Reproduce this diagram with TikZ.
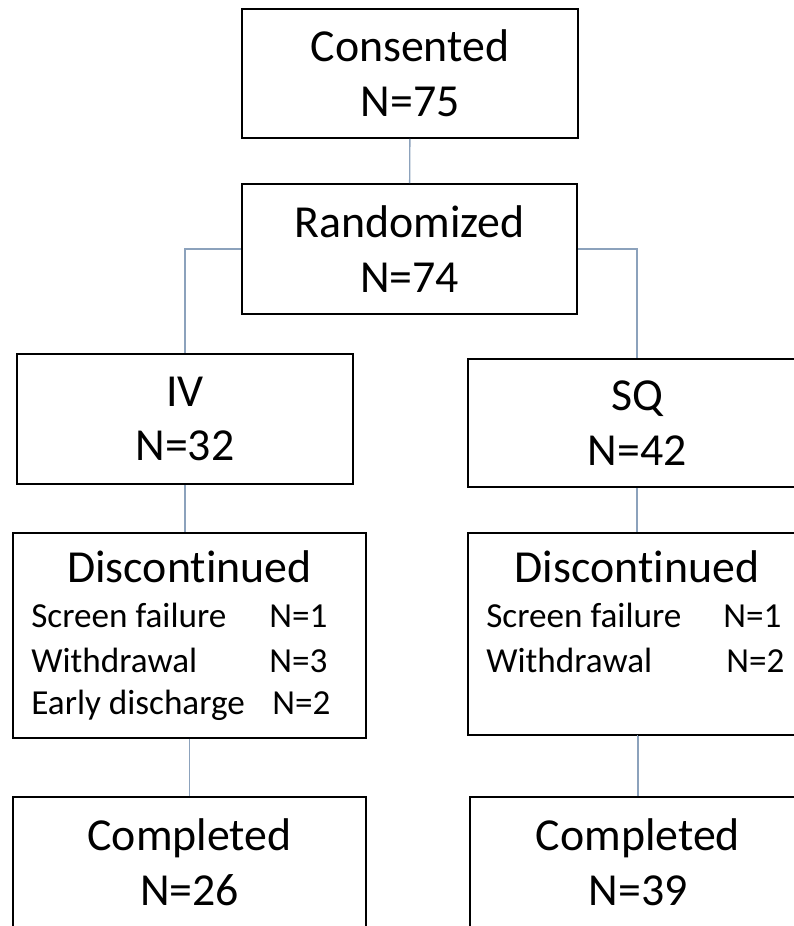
\documentclass[tikz,border=0pt]{standalone}
\usepackage{fontspec}
\setmainfont{Carlito}[Ligatures=NoCommon]
\usetikzlibrary{positioning}

\begin{document}
\begin{tikzpicture}[
        x=0.025cm, y=-0.025cm,
        block/.style={
            rectangle,
            draw=black,
            line width=1.3pt,
            inner sep=0pt,
            align=center,
            font=\fontsize{32.6}{39}\selectfont,
            minimum width=8.4cm,
            minimum height=3.25cm,
        },
        item/.style={
            inner sep=0pt,
            anchor=base west,
            font=\fontsize{25}{30}\selectfont,
        },
        link/.style={
            draw={rgb,255:red,140;green,162;blue,188},
            line width=1pt,
        }
    ]

    \useasboundingbox (0,0) rectangle (794,926);
    \clip (0,0) rectangle (794,926);

    \node (cons) at (410,73.5) [block, minimum height=3.225cm] {Consented\\N=75};
    \node (rand) at (409.5,249) [block, minimum width=8.375cm] {Randomized\\N=74};
    \node (iv) at (185,419) [block] {IV\\N=32};
    \node (sq) at (637,423) [block, minimum width=8.45cm, minimum height=3.2cm] {SQ\\N=42};
    \node (discL) at (189.5,635.5) [block, minimum width=8.825cm, minimum height=5.125cm] {};
    \node (discR) at (637,634) [block, minimum width=8.45cm, minimum height=5.05cm] {};
    \node (compL) at (189.5,862) [block, minimum width=8.825cm] {Completed\\N=26};
    \node (compR) at (638,862) [block] {Completed\\N=39};

    % discontinued, IV arm
    \node (discLhead) at ([yshift=-1.25cm]discL.north) [item, anchor=base, font=\fontsize{32.6}{39}\selectfont] {Discontinued};
    \node (discLscreen) at ([xshift=0.475cm, yshift=-2.375cm]discL.north west) [item] {Screen failure};
    \node (discLwith) at ([xshift=0.475cm, yshift=-3.5cm]discL.north west) [item] {Withdrawal};
    \node (discLearly) at ([xshift=0.475cm, yshift=-4.55cm]discL.north west) [item] {Early discharge};
    \node (discLn1) at ([xshift=6.425cm, yshift=-2.375cm]discL.north west) [item] {N=1};
    \node (discLn2) at ([xshift=6.425cm, yshift=-3.5cm]discL.north west) [item] {N=3};
    \node (discLn3) at ([xshift=6.5cm, yshift=-4.55cm]discL.north west) [item] {N=2};

    % discontinued, SQ arm
    \node (discRhead) at ([yshift=-1.25cm]discR.north) [item, anchor=base, font=\fontsize{32.6}{39}\selectfont] {Discontinued};
    \node (discRscreen) at ([xshift=0.475cm, yshift=-2.375cm]discR.north west) [item] {Screen failure};
    \node (discRwith) at ([xshift=0.475cm, yshift=-3.5cm]discR.north west) [item] {Withdrawal};
    \node (discRn1) at ([xshift=6.4cm, yshift=-2.375cm]discR.north west) [item] {N=1};
    \node (discRn2) at ([xshift=6.475cm, yshift=-3.5cm]discR.north west) [item] {N=2};

    \draw [link] (cons) -- (rand);
    \draw [link] (rand.west) -| (iv.north);
    \draw [link] (rand.east) -| (sq.north);
    \draw [link] (iv.south) -- (iv.south |- discL.north);
    \draw [link] (discL) -- (compL);
    \draw [link] (sq.south) -- (sq.south |- discR.north);
    \draw [link] (discR.south) -- (discR.south -| compR.north);
    \draw [link] (compR.north) -- (discR.south -| compR.north);

\end{tikzpicture}
\end{document}
